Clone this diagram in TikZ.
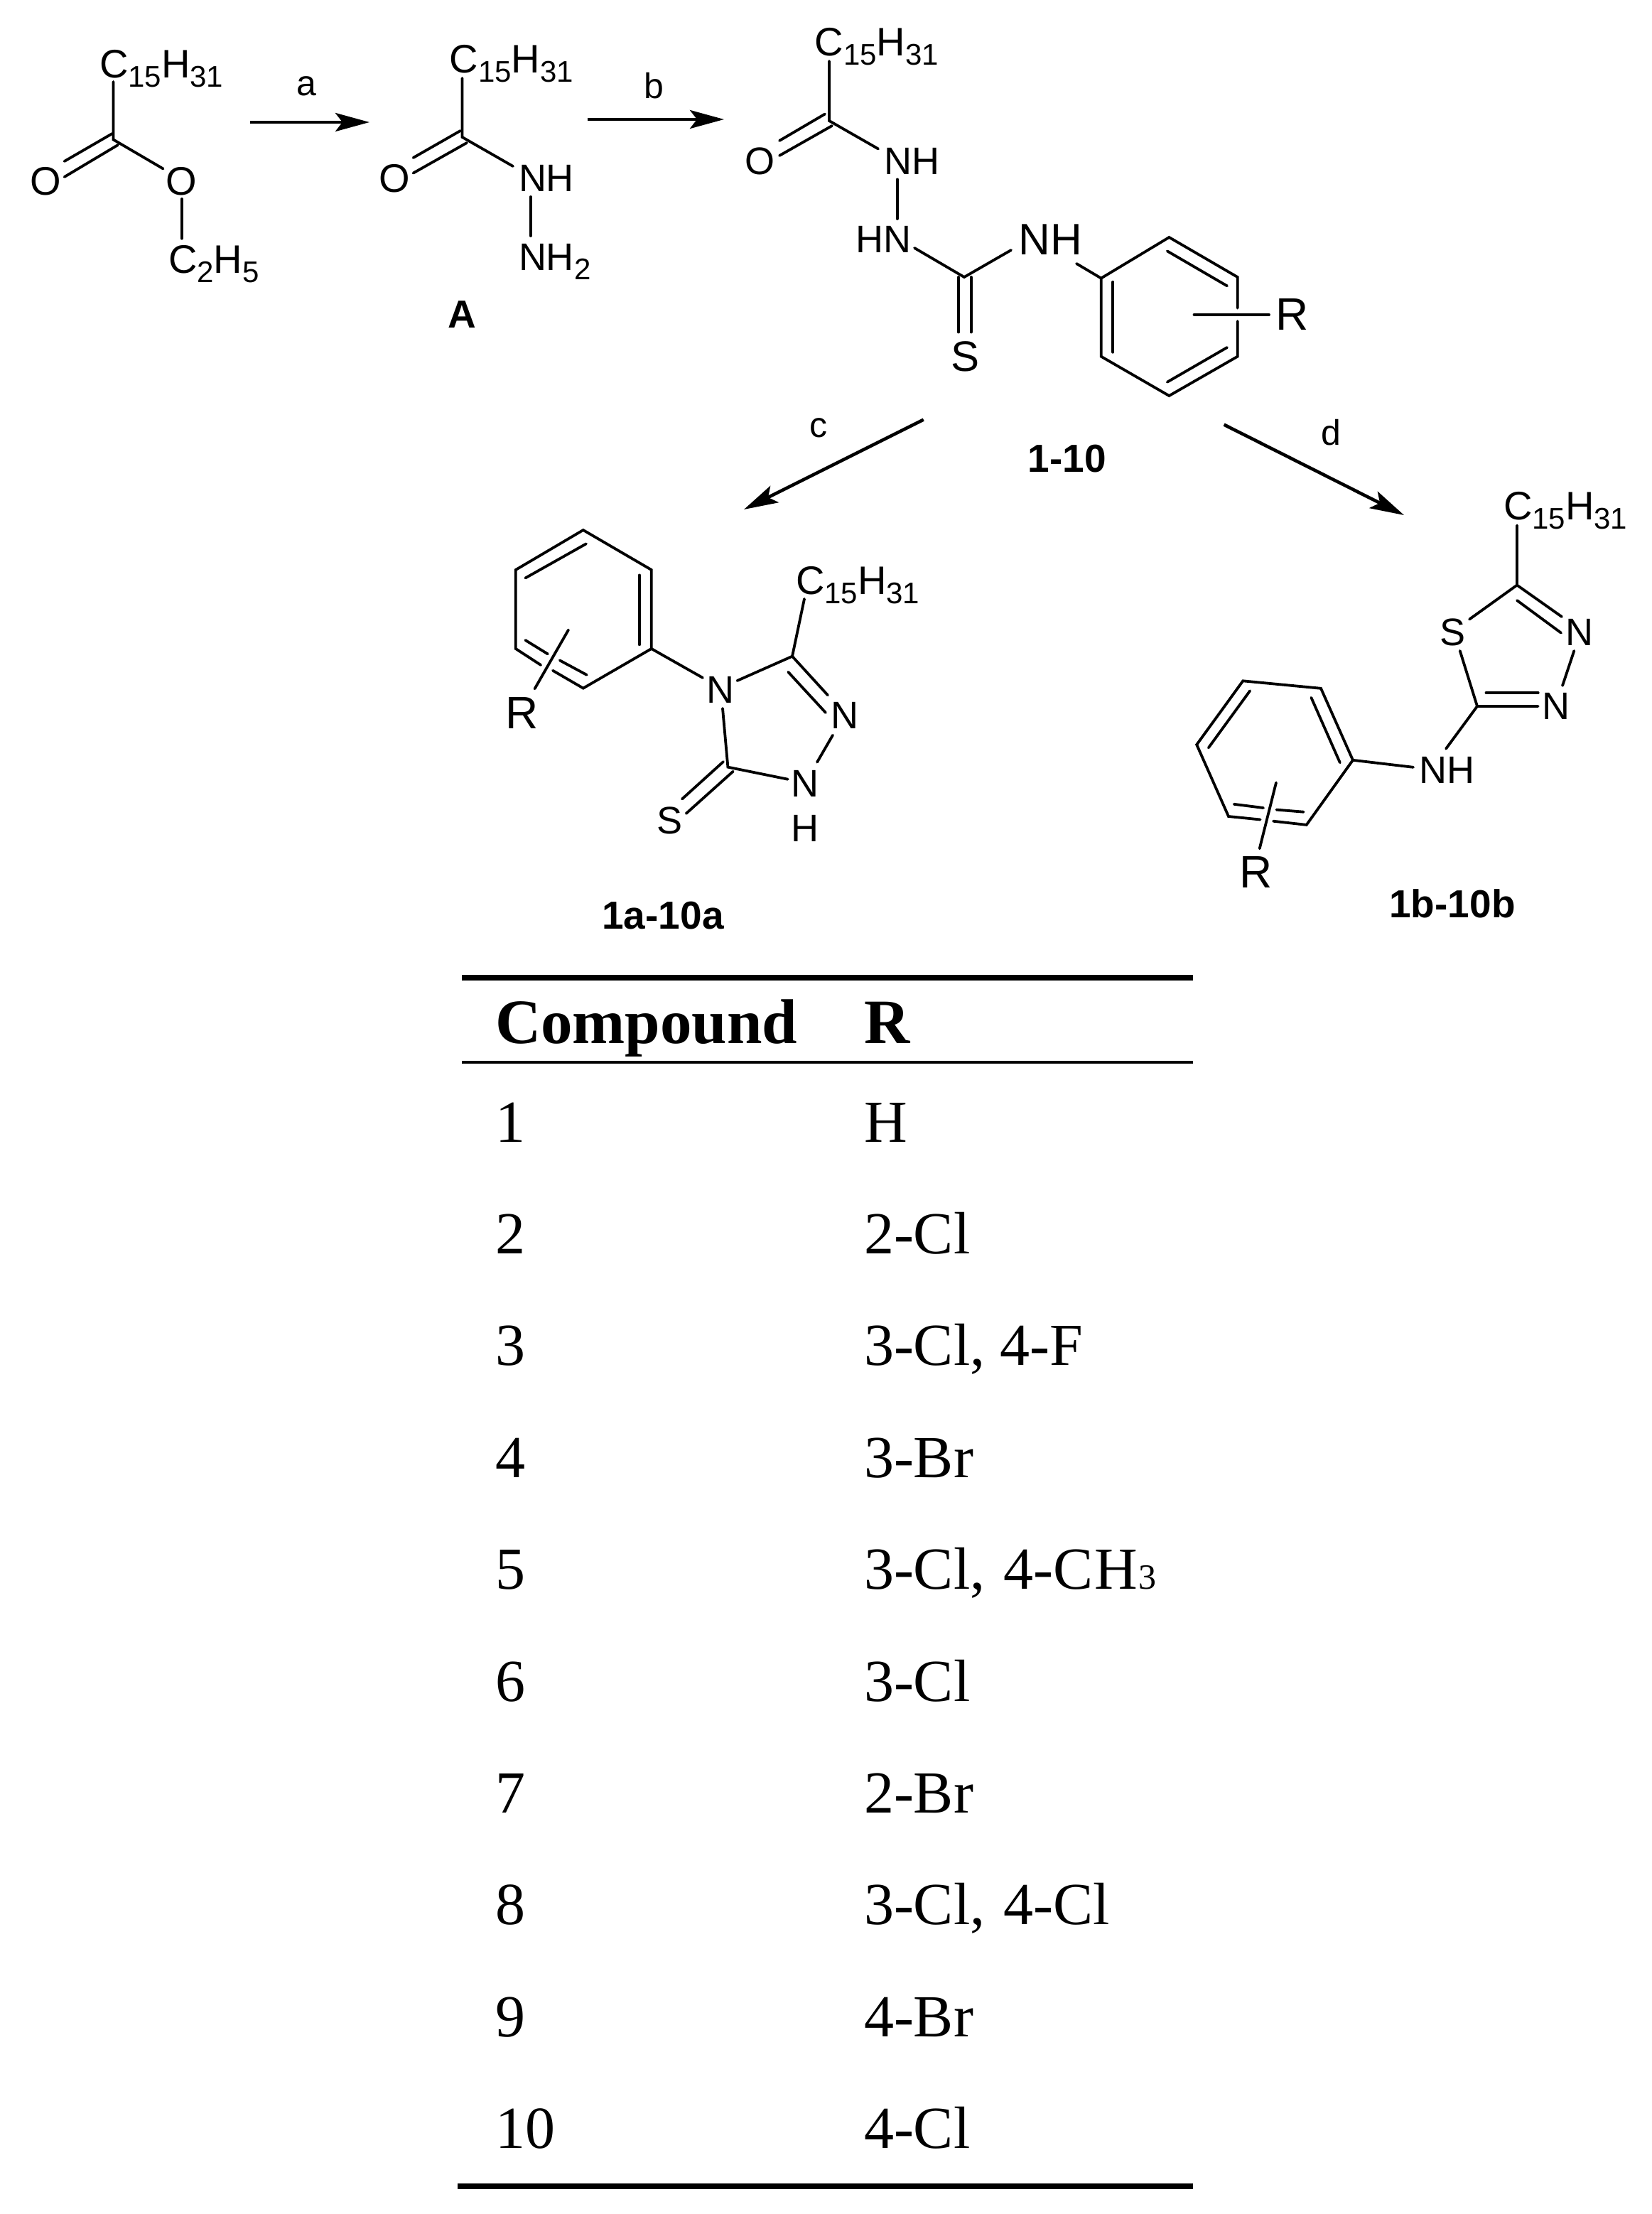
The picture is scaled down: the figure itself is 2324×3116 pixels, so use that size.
\documentclass[tikz,border=0pt]{standalone}
\usepackage{fontspec}
\setmainfont{Liberation Sans}
\newfontfamily\tabfont{Liberation Serif}
\usetikzlibrary{arrows.meta}
\newcommand{\sbs}[1]{\raisebox{-6.5pt}{\fontsize{21pt}{22pt}\selectfont #1}}
\newcommand{\chain}{C\sbs{15}H\sbs{31}}
\newcommand{\pts}[1]{\foreach \n/\a/\b in {#1}{\coordinate (\n) at (\a,\b);}}
\tikzset{
  every node/.style={inner sep=0pt,outer sep=0pt},
  bond/.style={line width=1.9pt,line cap=round,line join=miter},
  rxn/.style={line width=2.3pt,-{Stealth[length=24pt,width=13pt,inset=5pt]}},
  chainlab/.style={anchor=base west,font=\fontsize{28pt}{30pt}\selectfont},
  atomw/.style={anchor=base west,font=\fontsize{27pt}{30pt}\selectfont},
  atomc/.style={anchor=base,font=\fontsize{27pt}{30pt}\selectfont},
  bigatomw/.style={anchor=base west,font=\fontsize{31pt}{33pt}\selectfont},
  bigatomc/.style={anchor=base,font=\fontsize{30pt}{33pt}\selectfont},
  rsub/.style={anchor=base west,font=\fontsize{32pt}{34pt}\selectfont},
  stepname/.style={anchor=base,font=\fontsize{25pt}{28pt}\selectfont},
  cmpd/.style={anchor=base,font=\fontsize{27.5pt}{30pt}\selectfont\bfseries},
  tabhead/.style={anchor=base west,font=\fontsize{44.5pt}{46pt}\selectfont\tabfont\bfseries},
  tabcell/.style={anchor=base west,font=\fontsize{42pt}{44pt}\selectfont\tabfont},
  ruleA/.style={line width=3.9pt},
  ruleB/.style={line width=2.1pt}
}
\begin{document}
\begin{tikzpicture}[x=0.5pt,y=-0.5pt]
\useasboundingbox (0,0) rectangle (2324,3116);

% --- ester
\node[chainlab] (e15) at (140,109) {\chain};
\node[atomc,font=\fontsize{28pt}{30pt}\selectfont] (eO1) at (64,274) {O};
\node[atomc,font=\fontsize{28pt}{30pt}\selectfont] (eO2) at (255,274) {O};
\node[chainlab] (eEt) at (237,384) {C\sbs{2}H\sbs{5}};
\pts{ea/159.4/115, eC/159.4/196.4, ed1/158/188, ed2/90.6/227, ed3/166/204, ed4/90.6/249, eo/229.6/237.5, ef/255.7/280, eg/255.7/335.7}
\draw[bond] (ea)--(eC)--(eo);
\draw[bond] (ed1)--(ed2);
\draw[bond] (ed3)--(ed4);
\draw[bond] (ef)--(eg);

% --- arrow a
\pts{a1/352/172, a2/520/172}
\draw[rxn] (a1)--(a2);
\node[stepname] (la) at (431,134) {a};

% --- hydrazide A
\node[chainlab] (h15) at (632.6,102) {\chain};
\node[atomc,font=\fontsize{28pt}{30pt}\selectfont] (hO) at (555,270) {O};
\node[atomw] (hN1) at (730,269.6) {NH};
\node[atomw] (hN2) at (730,380) {NH\sbs{2}};
\node[cmpd] (lA) at (650.5,461) {A};
\pts{ha/650.5/110, hC/650.5/193, hd1/648/184, hd2/581.6/222, hd3/657/201, hd4/581.6/243.6, hn/722/234, hf/746.8/277, hg/746.8/332}
\draw[bond] (ha)--(hC)--(hn);
\draw[bond] (hd1)--(hd2);
\draw[bond] (hd3)--(hd4);
\draw[bond] (hf)--(hg);

% --- arrow b
\pts{b1/826.5/168, b2/1019/168}
\draw[rxn] (b1)--(b2);
\node[stepname] (lb) at (920,138.6) {b};

% --- thiosemicarbazide 1-10
\node[chainlab] (t15) at (1146.7,78) {\chain};
\node[atomc] (tO) at (1069,245) {O};
\node[atomw] (tN1) at (1244,245) {NH};
\node[atomw] (tN2) at (1204,355.6) {HN};
\node[bigatomw] (tN3) at (1433.7,358) {NH};
\node[bigatomc] (tS) at (1358,522) {S};
\node[rsub] (tR) at (1795,464) {R};
\node[cmpd] (l110) at (1502,664) {1-10};
\pts{ta/1167/86, tC/1167/170, td1/1161/160.5, td2/1097/198, td3/1171/177, td4/1097/219, tn/1236/209.5, tf/1262.8/252.4, tg/1262.8/308, ti/1287/349, tk/1357/390, tm/1423/352, ts1/1349/390, ts2/1349/467.5, ts3/1366.7/390, ts4/1366.7/467.5, tp/1515/371}
\draw[bond] (ta)--(tC)--(tn);
\draw[bond] (td1)--(td2);
\draw[bond] (td3)--(td4);
\draw[bond] (tf)--(tg);
\draw[bond] (ti)--(tk)--(tm);
\draw[bond] (ts1)--(ts2);
\draw[bond] (ts3)--(ts4);
\pts{r1/1549.7/391.6, r2/1645.4/334, r3/1741.7/390, r3g/1741.7/433.6, r4g/1741.7/452, r4/1741.7/501.7, r5/1645.4/557, r6/1549.7/501.7, ri1/1642.8/353.4, ri2/1727/402.4, ri3/1566.3/396.8, ri4/1566.3/495.7, ri5/1642.8/537.7, ri6/1727/489, rRa/1680.5/442.8, rRb/1786/442.8}
\draw[bond] (tp)--(r1);
\draw[bond] (r3g)--(r3)--(r2)--(r1)--(r6)--(r5)--(r4)--(r4g);
\draw[bond] (ri1)--(ri2);
\draw[bond] (ri3)--(ri4);
\draw[bond] (ri5)--(ri6);
\draw[bond] (rRa)--(rRb);

% --- arrows c, d
\pts{c1/1299.7/590.6, c2/1047/717, d1/1722.6/597.6, d2/1976/725}
\draw[rxn] (c1)--(c2);
\draw[rxn] (d1)--(d2);
\node[stepname] (lc) at (1151.8,615.8) {c};
\node[stepname] (ld) at (1873.7,626.6) {d};

% --- triazole 1a-10a
\node[chainlab] (a15) at (1120,836) {\chain};
\node[atomc] (aN4) at (1013.7,989) {N};
\node[atomc] (aN3) at (1188.7,1025.7) {N};
\node[atomc] (aN2) at (1133,1121.2) {N};
\node[atomc] (aH) at (1133,1184.5) {H};
\node[atomc] (aS) at (942,1173.5) {S};
\node[rsub] (aR) at (711,1025.3) {R};
\node[cmpd] (l1a) at (933,1307) {1a-10a};
\pts{p1/820.8/746, p2/916.8/802, p3/916.8/913, p4/820.8/968.6, p5/725.8/913, p6/725.8/802, pi1/825/765.3, pi2/739.4/813.5, pi3/899.8/809.4, pi4/899.8/907.3, pi5/825.7/949.8, pi6/739.4/901, pg1/770.9/920.4, pg2/787.8/929.4, pg3/761.2/936, pg4/778/943.7, pRa/800/886.5, pRb/752.5/969.4, pn/989/953.9, pm/1037.5/958, pC5/1115/923.7, pq/1132/842.9, pc1/1165/978.4, pc2/1109.2/945.7, pc3/1162/1003, pN1/1172/1034.7, pN2/1150/1072.7, pC3/1024.4/1079.6, pN3/1017/997, pN4/1108.7/1096.7, ps1/1018/1072, ps2/960/1124.5, ps3/1031.7/1085.7, ps4/965.7/1144.9}
\draw[bond] (pg4)--(p4)--(p3)--(p2)--(p1)--(p6)--(p5)--(pg3);
\draw[bond] (pi1)--(pi2);
\draw[bond] (pi3)--(pi4);
\draw[bond] (pi5)--(pg2);
\draw[bond] (pg1)--(pi6);
\draw[bond] (pRa)--(pRb);
\draw[bond] (p3)--(pn);
\draw[bond] (pm)--(pC5)--(pq);
\draw[bond] (pC5)--(pc1);
\draw[bond] (pc2)--(pc3);
\draw[bond] (pN1)--(pN2);
\draw[bond] (pN3)--(pC3)--(pN4);
\draw[bond] (ps1)--(ps2);
\draw[bond] (ps3)--(ps4);

% --- thiadiazole 1b-10b
\node[chainlab] (b15) at (2116,731.5) {\chain};
\node[atomc] (bS) at (2044,908) {S};
\node[atomc] (bN1) at (2223,908) {N};
\node[atomc] (bN2) at (2190,1012) {N};
\node[atomw] (bNH) at (1997,1102) {NH};
\node[rsub] (bR) at (1744,1249.8) {R};
\node[cmpd] (l1b) at (2044,1291) {1b-10b};
\pts{qa/2135/739.4, qC5/2135/823.5, qs/2068/871.6, qn/2198/868, qi1/2135/845, qi2/2197/890.7, qf/2215.4/915.9, qg/2199/964.9, qC2/2079/994, qd1/2164.7/994, qd2/2091.5/975, qd3/2164.7/975, qt/2054.7/915.9, qh/2035/1053.8, s1/1904/1069.8, s2/1859/968.8, s3/1749.3/958.3, s4/1684.2/1048, s5/1729/1149, s6/1838.7/1160.9, sn/1989/1079.8, si1/1845.4/981.8, si2/1885.8/1073.3, si3/1759.2/972.2, si4/1700.8/1052.4, si5/1736.7/1131.8, si6/1834.6/1142.7, sg1/1778/1137, sg2/1796.5/1139.6, sg3/1773.6/1153.5, sg4/1792/1155.7, sRa/1796/1101.5, sRb/1772.7/1194.3}
\draw[bond] (qa)--(qC5)--(qs);
\draw[bond] (qC5)--(qn);
\draw[bond] (qi1)--(qi2);
\draw[bond] (qf)--(qg);
\draw[bond] (qt)--(qC2)--(qd1);
\draw[bond] (qd2)--(qd3);
\draw[bond] (qC2)--(qh);
\draw[bond] (sg4)--(s6)--(s1)--(s2)--(s3)--(s4)--(s5)--(sg3);
\draw[bond] (s1)--(sn);
\draw[bond] (si1)--(si2);
\draw[bond] (si3)--(si4);
\draw[bond] (si5)--(sg1);
\draw[bond] (sg2)--(si6);
\draw[bond] (sRa)--(sRb);

% --- table
\pts{tl1/650/1376, tl2/1679/1376, tm1/650/1495, tm2/1679/1495, tb1/644/3077, tb2/1679/3077}
\draw[ruleA] (tl1)--(tl2);
\draw[ruleB] (tm1)--(tm2);
\draw[ruleA] (tb1)--(tb2);
\node[tabhead] (hc) at (697,1468) {Compound};
\node[tabhead] (hr) at (1216,1468) {R};
\foreach \i/\rr in {1/H,2/2-Cl,3/{3-Cl, 4-F},4/3-Br,5/{3-Cl,\kern2.5pt{} 4-C\kern1pt{}H\kern0.5pt{\fontsize{25pt}{27pt}\selectfont 3}},6/3-Cl,7/2-Br,8/{3-Cl,\kern2.5pt{} 4-Cl},9/4-Br,10/4-Cl}{
  \pgfmathsetmacro{\yy}{1607+157.4*(\i-1)}
  \node[tabcell] (c\i) at (697,\yy) {\i};
  \node[tabcell] (v\i) at (1216,\yy) {\rr};
}
\end{tikzpicture}
\end{document}
